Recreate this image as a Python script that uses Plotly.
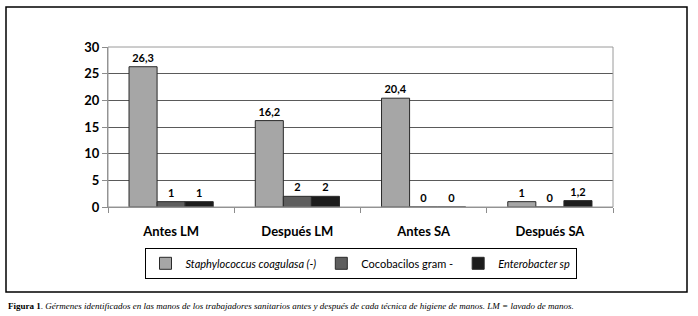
import plotly.graph_objects as go

categories = ["Antes LM", "Después LM", "Antes SA", "Después SA"]
staph = [26.3, 16.2, 20.4, 1]
coco = [1, 2, 0, 0]
entero = [1, 2, 0, 1.2]
series_names = ["<i>Staphylococcus coagulasa (-)</i>", "Cocobacilos gram -", "<i>Enterobacter sp</i>"]
series_colors = ["#a6a6a6", "#5e5e5e", "#1c1c1c"]
y_ticks = [0, 5, 10, 15, 20, 25, 30]

fig = go.Figure()
for name, vals, col in zip(series_names, [staph, coco, entero], series_colors):
    fig.add_trace(go.Bar(
        x=categories, y=vals, name=name,
        marker=dict(color=col, line=dict(color="#2a2a2a", width=1)),
        text=vals, texttemplate="%{y}", textposition="outside",
        textfont=dict(family="Lato", size=11, color="#000", weight="bold"),
        cliponaxis=False,
    ))

fig.update_layout(
    width=698, height=316,
    margin=dict(l=108, r=85, t=47, b=109),
    paper_bgcolor="white", plot_bgcolor="white",
    separators=",.",
    barmode="group", bargap=0.333, bargroupgap=0,
    font=dict(family="Lato", color="#000"),
    showlegend=True,
    legend=dict(orientation="h", x=0.5, xanchor="center", y=-0.255, yanchor="top",
                bordercolor="#000", borderwidth=1, font=dict(size=11, family="Lato"),
                itemwidth=30, tracegroupgap=0),
    xaxis=dict(showgrid=False, showline=True, linecolor="#8c8c8c", linewidth=1,
               ticks="outside", tickson="boundaries", ticklen=5, tickcolor="#8c8c8c",
               tickfont=dict(size=13, family="Lato", weight="bold"), ticklabelstandoff=12),
    yaxis=dict(range=[0, 30], tickvals=y_ticks, showgrid=True, gridcolor="#5a5a5a", gridwidth=1,
               showline=True, linecolor="#8c8c8c", linewidth=1,
               ticks="outside", ticklen=5, tickcolor="#8c8c8c", zeroline=False,
               tickfont=dict(size=13, family="Lato", weight="bold")),
    shapes=[
        dict(type="rect", xref="paper", yref="paper", x0=0, x1=1, y0=0, y1=1,
             line=dict(color="#9a9a9a", width=1), layer="above"),
        dict(type="rect", xref="paper", yref="paper",
             x0=-102/505, x1=1 + 74/505, y0=-85/160, y1=1 + 40/160,
             line=dict(color="#000", width=1.5)),
    ],
    annotations=[
        dict(xref="paper", yref="paper", x=-102/505, y=-99/160, xanchor="left", yanchor="middle",
             showarrow=False, align="left",
             text="<b>Figura 1</b>. <i>Gérmenes identificados en las manos de los trabajadores sanitarios antes y después de cada técnica de higiene de manos. LM = lavado de manos.</i>",
             font=dict(family="Liberation Serif", size=9, color="#000")),
    ],
)

fig.write_html("out.html", config={"displayModeBar": False},
               post_script="document.body.style.margin='0';")
